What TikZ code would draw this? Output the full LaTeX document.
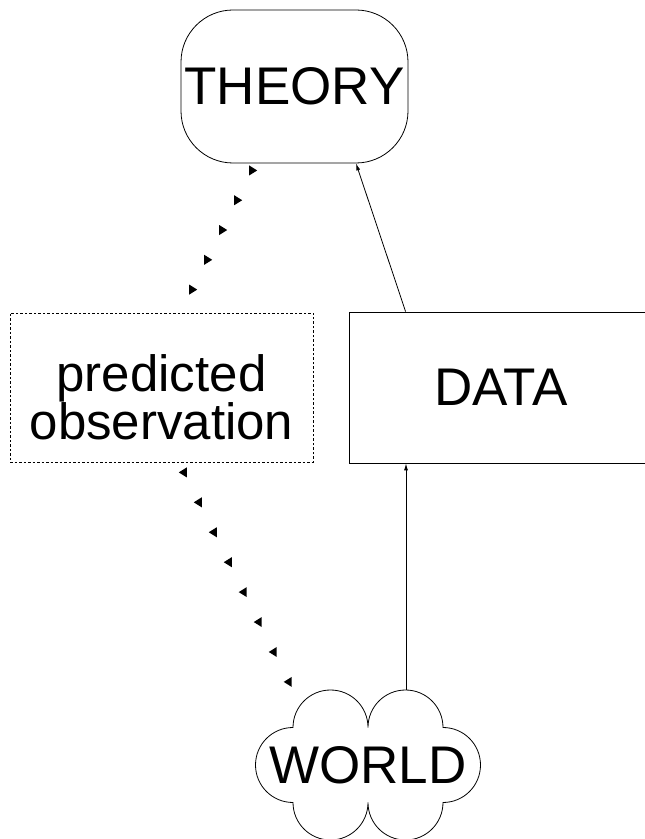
\documentclass[tikz,border=0pt]{standalone}
\usepackage{fontspec}
\setmainfont{Liberation Sans}
\usetikzlibrary{arrows.meta,shapes.geometric,decorations.markings}

\begin{document}
\begin{tikzpicture}[x=1pt, y=1pt, line width=0.8pt,
    big/.style ={font=\fontsize{53}{48}\selectfont, align=center},
    theorybox/.style ={big, draw, rounded corners=52pt, minimum width=227pt, minimum height=153pt, inner sep=0pt},
    predbox/.style ={big, font=\fontsize{51}{48}\selectfont, draw, dash pattern=on 2.5pt off 2pt, minimum width=303pt, minimum height=149pt, inner sep=0pt},
    databox/.style ={big, draw, minimum width=304pt, minimum height=151pt, inner sep=0pt},
    worldtext/.style ={big, inner sep=0pt},
    tipR/.style ={isosceles triangle, isosceles triangle stretches, fill, inner sep=0pt, minimum width=10pt, minimum height=8pt},
    tipL/.style ={tipR, shape border rotate=180},
    upline/.style ={postaction={decorate}, decoration={markings, mark=between positions 0 and 1 step 0.2499 with {\node[tipR] {};}}},
    downline/.style ={postaction={decorate}, decoration={markings, mark=between positions 0 and 1 step 0.1428 with {\node[tipL] {};}}},
    link/.style ={-{Latex[length=7pt, width=4pt]}}]
   \useasboundingbox (0,0) rectangle (645,839);
   \node[theorybox] (T) at (294.5,752.5) {THEORY};
   \node[predbox] (P) at (161.5,451.5) {\rule{0pt}{56pt}predicted\\observation};
   \node[databox] (D) at (501,451.5) {DA\kern-4pt T\kern-4pt A};
   \node[worldtext] (W) at (368,74) {WORLD};
   % cloud round WORLD
   \draw (W.center) ++(-75,37.5)
      arc[start angle=180, end angle=0, radius=37.5]
      arc[start angle=180, end angle=0, radius=37.5]
      arc[start angle=90, end angle=-90, radius=37.5]
      arc[start angle=0, end angle=-180, radius=37.5]
      arc[start angle=0, end angle=-180, radius=37.5]
      arc[start angle=-90, end angle=-270, radius=37.5] -- cycle;
   \coordinate (w1) at ([shift={(38,75)}]W.center);
   \coordinate (w2) at ([shift={(-79,83)}]W.center);
   \draw[link] ([xshift=57pt]D.north west) to ([xshift=61.5pt]T.south);
   \draw[link] (w1) to (w1 |- D.south);
   \path[upline] ([xshift=30.5pt, yshift=23pt]P.north) to ([xshift=-42.5pt, yshift=-7pt]T.south);
   \path[downline] ([xshift=22.5pt, yshift=-10pt]P.south) to (w2);
 \end{tikzpicture}
\end{document}
